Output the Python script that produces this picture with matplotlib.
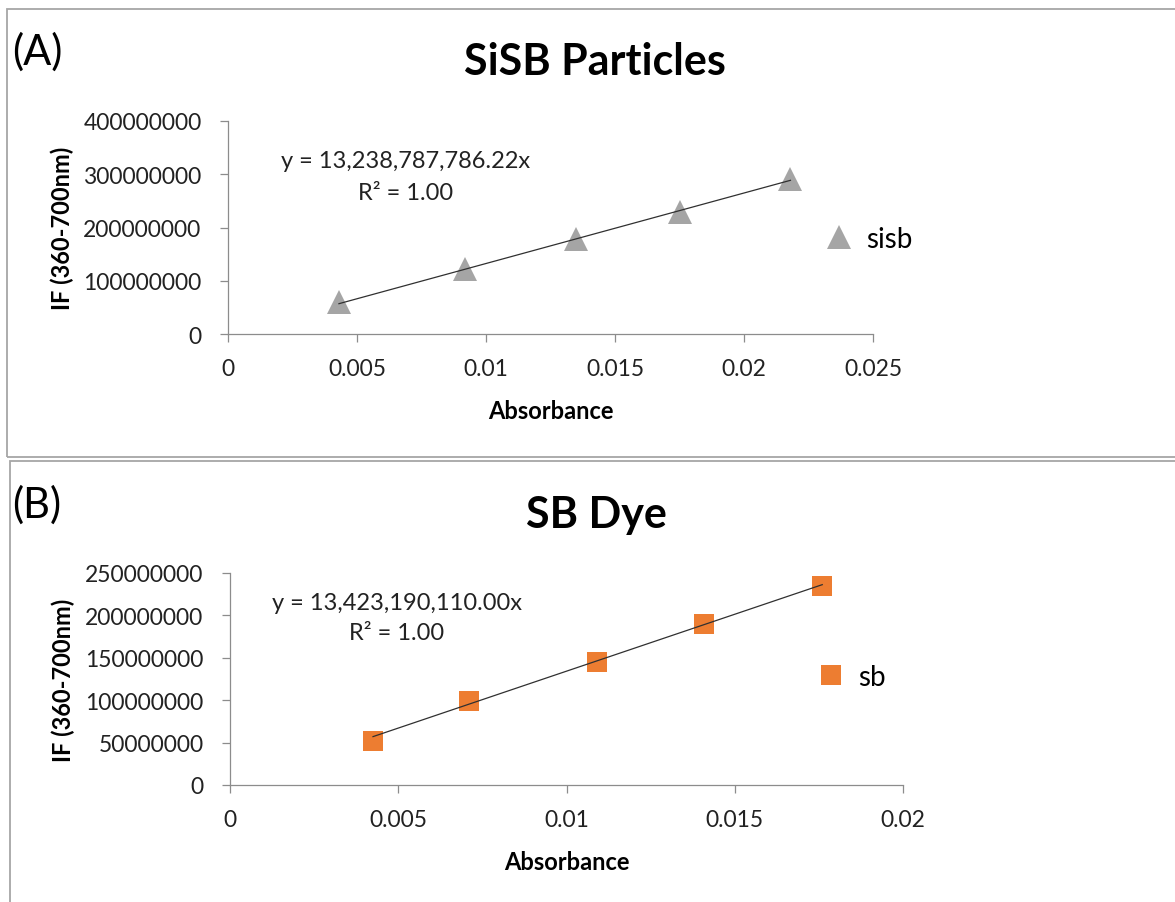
import numpy as np
import matplotlib
matplotlib.use("Agg")
import matplotlib.pyplot as plt
from matplotlib.patches import Rectangle
from matplotlib.ticker import FuncFormatter, MultipleLocator

plt.rcParams['font.family'] = ['Lato', 'DejaVu Sans']

# calibration data
sisb_abs = [0.0043, 0.0092, 0.0135, 0.0175, 0.0218]
sisb_if = [60000000, 123000000, 179000000, 230000000, 292000000]
sisb_slope = 13238787786.22

sb_abs = [0.00425, 0.0071, 0.0109, 0.0141, 0.0176]
sb_if = [52000000, 99000000, 145000000, 190000000, 235000000]
sb_slope = 13423190110.00

W, H = 1175, 903
fig = plt.figure(figsize=(W / 100, H / 100), dpi=100)


def fx(x):
    return x / W


def fy(y):
    return 1 - y / H


def box(x0, y0, x1, y1):
    fig.patches.append(Rectangle((fx(x0), fy(y1)), fx(x1 - x0), (y1 - y0) / H,
                                 transform=fig.transFigure, fill=False,
                                 edgecolor='#a6a6a6', lw=1.3))


def panel(rect, xs, ys, slope, xmax, xstep, ymax, ystep, marker, color, msize,
          name, title, letter, tpos, eqpos, legpos, boxy):
    l, t, r, b = rect
    ax = fig.add_axes([fx(l), fy(b), fx(r - l), (b - t) / H])
    ax.plot(xs, ys, linestyle='none', marker=marker, color=color,
            markersize=msize, markeredgewidth=0, label=name, zorder=3)
    # linear trend through the origin, drawn over the measured range
    xl = np.array([xs[0], xs[-1]])
    ax.plot(xl, slope * xl, color='#303030', lw=0.9, zorder=4)
    ax.set_xlim(0, xmax)
    ax.set_ylim(0, ymax)
    ax.xaxis.set_major_locator(MultipleLocator(xstep))
    ax.yaxis.set_major_locator(MultipleLocator(ystep))
    ax.xaxis.set_major_formatter(FuncFormatter(lambda v, p: '0' if v == 0 else f'{v:g}'))
    ax.yaxis.set_major_formatter(FuncFormatter(lambda v, p: f'{v:.0f}'))
    for s in ['top', 'right']:
        ax.spines[s].set_visible(False)
    for s in ['left', 'bottom']:
        ax.spines[s].set_color('#8c8c8c')
        ax.spines[s].set_linewidth(0.9)
    ax.tick_params(colors='#8c8c8c', length=6, width=0.9, labelsize=16.5,
                   labelcolor='#222222')
    ax.tick_params(axis='y', pad=13)
    ax.tick_params(axis='x', pad=11)
    ax.set_xlabel('Absorbance', fontsize=17, fontweight='bold', labelpad=15)
    ax.set_ylabel('IF (360-700nm)', fontsize=17, fontweight='bold', labelpad=7)
    ax.set_facecolor('none')

    fig.text(fx(tpos[0]), fy(tpos[1]), title, fontsize=31, fontweight='bold',
             ha='center', va='center')
    fig.text(fx(12), fy(letter[1]), letter[0], fontsize=30, ha='left', va='center')
    eq = f'y = {slope:,.2f}x'
    fig.text(fx(eqpos[0]), fy(eqpos[1]), eq, fontsize=17, ha='center', va='center',
             color='#222222')
    fig.text(fx(eqpos[0]), fy(eqpos[1] + 31), 'R² = 1.00', fontsize=17,
             ha='center', va='center', color='#222222')
    ax.legend(loc='center left', bbox_to_anchor=(fx(legpos[0]), fy(legpos[1])),
              bbox_transform=fig.transFigure, frameon=False, fontsize=20,
              handletextpad=0.4, handlelength=1.2, borderpad=0, borderaxespad=0)
    box(boxy[0], boxy[1], W + 10, boxy[2])
    return ax


panel((228, 122, 873, 335), sisb_abs, sisb_if, sisb_slope, 0.025, 0.005,
      400000000, 100000000, '^', '#a5a5a5', 17, 'sisb', 'SiSB Particles',
      ('(A)', 52), (595, 62), (406, 162), (822, 240), (7, 10, 458))

panel((230, 574, 903, 786), sb_abs, sb_if, sb_slope, 0.02, 0.005,
      250000000, 50000000, 's', '#ed7d31', 15, 'sb', 'SB Dye',
      ('(B)', 505), (596, 515), (397, 603), (814, 678), (10, 462, H + 10))

fig.savefig('out.png', dpi=100, facecolor='white')
